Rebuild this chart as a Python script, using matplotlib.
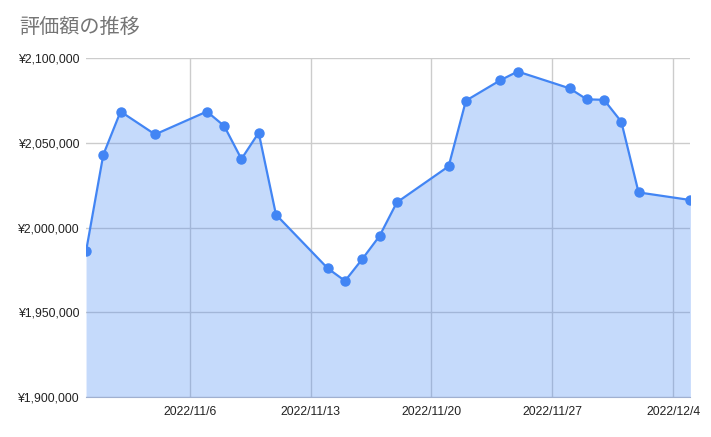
import datetime as dt
import matplotlib
matplotlib.use("Agg")
import matplotlib.pyplot as plt
import matplotlib.dates as mdates
from matplotlib.ticker import FuncFormatter

# data
dates = [
    "2022-10-31", "2022-11-01", "2022-11-02", "2022-11-04", "2022-11-07",
    "2022-11-08", "2022-11-09", "2022-11-10", "2022-11-11", "2022-11-14",
    "2022-11-15", "2022-11-16", "2022-11-17", "2022-11-18", "2022-11-21",
    "2022-11-22", "2022-11-24", "2022-11-25", "2022-11-28", "2022-11-29",
    "2022-11-30", "2022-12-01", "2022-12-02", "2022-12-05",
]
values = [
    1986000, 2043000, 2068500, 2055000, 2068500,
    2060000, 2040500, 2056000, 2007700, 1976000,
    1968600, 1981500, 1995100, 2014900, 2036200,
    2074900, 2087000, 2092100, 2082200, 2075700,
    2075400, 2062500, 2020800, 2016300,
]
tick_dates = ["2022-11-06", "2022-11-13", "2022-11-20", "2022-11-27", "2022-12-04"]
y_ticks = [1900000, 1950000, 2000000, 2050000, 2100000]

x = [dt.datetime.strptime(d, "%Y-%m-%d") for d in dates]
xt = [dt.datetime.strptime(d, "%Y-%m-%d") for d in tick_dates]

plt.rcParams["font.family"] = ["Liberation Sans", "Noto Sans CJK JP", "DejaVu Sans"]

fig = plt.figure(figsize=(7.11, 4.37), dpi=100)
ax = fig.add_axes([0.121, 0.091, 0.850, 0.776])

blue = "#4285f4"
ax.fill_between(x, values, 1900000, color=blue, alpha=0.3, linewidth=0, zorder=2)
ax.plot(x, values, color=blue, linewidth=1.6, marker="o", markersize=6.5, zorder=3)

ax.set_xlim(x[0], x[-1])
ax.set_ylim(1900000, 2100000)
ax.set_xticks(xt)
ax.xaxis.set_major_formatter(FuncFormatter(
    lambda v, p: "{0.year}/{0.month}/{0.day}".format(mdates.num2date(v))))
ax.set_yticks(y_ticks)
ax.yaxis.set_major_formatter(FuncFormatter(lambda v, p: "¥{:,.0f}".format(v)))

ax.grid(True, color="#cccccc", linewidth=1, zorder=1)
ax.set_axisbelow(True)
for s in ["top", "right", "left"]:
    ax.spines[s].set_visible(False)
ax.spines["bottom"].set_color("#a0b0d0")
ax.tick_params(length=0, labelsize=8.8, colors="#222222")
ax.tick_params(axis="x", pad=6)
ax.tick_params(axis="y", pad=5)

fig.text(0.027, 0.937, "評価額の推移", fontsize=14.5, color="#757575",
         family=["Noto Sans CJK JP"], va="center")

fig.savefig("out.png", dpi=100)
